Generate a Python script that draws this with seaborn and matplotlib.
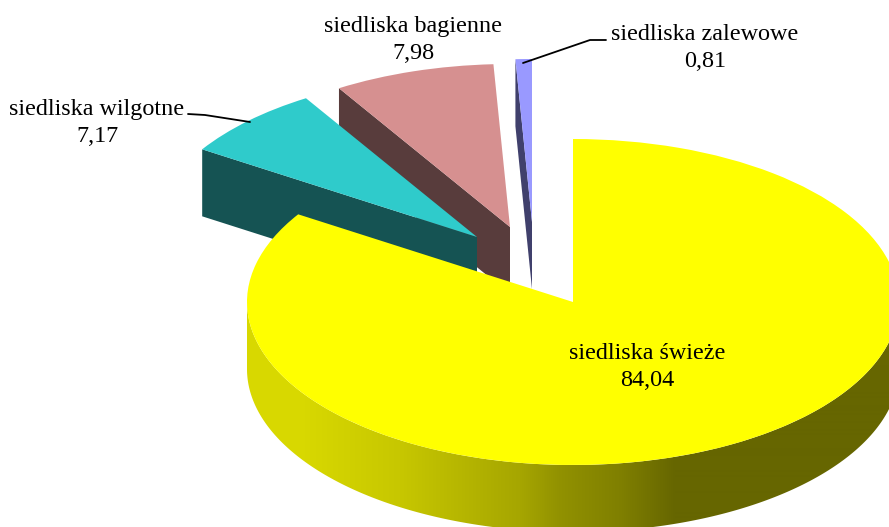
import numpy as np
import matplotlib
matplotlib.use("Agg")
import matplotlib.pyplot as plt
from matplotlib.patches import Polygon
import seaborn as sns

names = ["siedliska świeże", "siedliska wilgotne", "siedliska bagienne", "siedliska zalewowe"]
values = [84.04, 7.17, 7.98, 0.81]

top_colors = ["#ffff00", "#2fcbcb", "#d69090", "#9999ff"]
side_colors = [None, "#155353", "#583c3c", "#40406c"]

W, H = 889, 527
CX, CY = 573, 302   # pie centre, pixels
RX, RY = 326, 163   # radii of the squashed pie, pixels
DEPTH = 67 / RY
# how far each slice is pulled out, in pie radii
offsets = [(0, 0), (-96 / RX, 65 / RY), (-63 / RX, 75 / RY), (-41 / RX, 80 / RY)]
# label centre in pixels
label_pos = [(647, 367), (97, 123), (413, 40), (705, 48)]

sns.set_theme(style="white")
plt.rcParams["font.family"] = ["Liberation Serif", "DejaVu Serif"]

fig = plt.figure(figsize=(W / 100, H / 100), dpi=100)
ax = fig.add_axes([0, 0, 1, 1])
wedges, _ = ax.pie(values, colors=top_colors, startangle=90, counterclock=False, radius=1)
x0, x1 = -CX / RX, (W - CX) / RX
y0, y1 = -(H - CY) / RY, CY / RY

# pulled out slices: cut face on their near edge, below the big slice
for i, (w, off, c) in enumerate(zip(wedges, offsets, side_colors)):
    w.set_center(off)
    w.set_linewidth(0)
    if c is None:
        w.set_zorder(5)
        continue
    w.set_zorder(3)
    t = np.deg2rad(w.theta2)
    rim = (off[0] + np.cos(t), off[1] + np.sin(t))
    ax.fill([rim[0], off[0], off[0], rim[0]],
            [rim[1], off[1], off[1] - DEPTH, rim[1] - DEPTH],
            color=c, lw=0, zorder=2 - i * 0.1)

# shaded wall of the big slice, light on the left and dark on the right
px = np.arange(W)
s = np.interp(px, [247, 300, 400, 520, 560, 620, 675, 900],
              [0.85, 0.85, 0.78, 0.65, 0.57, 0.5, 0.4, 0.4])
shade = np.dstack([s, s, np.zeros_like(s)])
ang = np.linspace(-np.pi, 0, 300)
wall = np.r_[np.c_[np.cos(ang), np.sin(ang)],
             np.c_[np.cos(ang[::-1]), np.sin(ang[::-1]) - DEPTH]]
im = ax.imshow(shade, extent=(x0, x1, y0, y1), aspect="auto", zorder=4, interpolation="bilinear")
patch = Polygon(wall, transform=ax.transData, fc="none", ec="none")
ax.add_patch(patch)
im.set_clip_path(patch)

ax.set_aspect("auto")
ax.set_xlim(x0, x1)
ax.set_ylim(y0, y1)
ax.axis("off")

# leader lines
ax.plot(np.array([188, 205, 250]) / W, 1 - np.array([114, 115, 122]) / H,
        color="black", lw=1.3, transform=fig.transFigure, zorder=6)
ax.plot(np.array([606, 590, 523]) / W, 1 - np.array([40, 40, 63]) / H,
        color="black", lw=1.3, transform=fig.transFigure, zorder=6)

for name, v, (x, y) in zip(names, values, label_pos):
    txt = name + "\n" + ("%.2f" % v).replace(".", ",")
    ax.text(x / W, 1 - y / H, txt, transform=fig.transFigure, ha="center", va="center",
            fontsize=17.4, color="black", linespacing=1.4, zorder=7)

fig.savefig("out.png", dpi=100)
